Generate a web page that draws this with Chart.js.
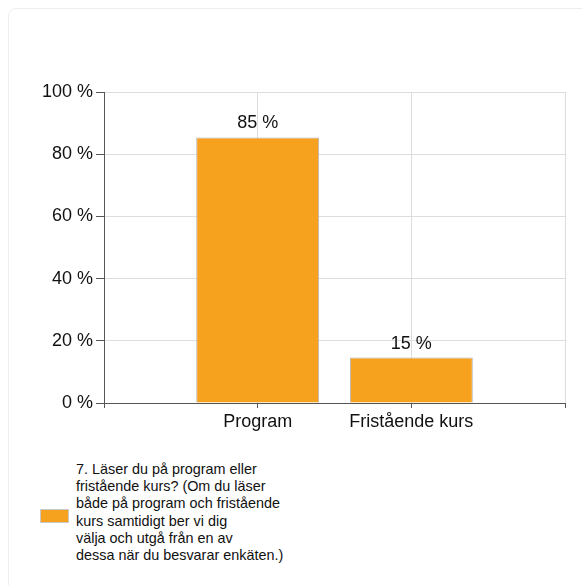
<!DOCTYPE html>
<html>
<head>
<meta charset="utf-8">
<script src="https://cdn.jsdelivr.net/npm/chart.js@4"></script>
<style>
  body { margin: 0; background: #fff; font-family: "Liberation Sans", Arial, sans-serif; }
  .card { position: absolute; left: 8px; top: 8px; width: 620px; height: 620px;
          border: 1px solid #eeeeee; border-radius: 8px; background: #fff; }
  #wrap { position: absolute; left: 0; top: 0; width: 582px; height: 440px; }
  .legend { position: absolute; left: 40px; top: 461px; width: 260px; }
  .legend .box { position: absolute; left: 0; top: 48px; width: 27px; height: 12px;
                 background: #f7a21e; border: 1px solid #c8c8c8; }
  .legend .txt { position: absolute; left: 36px; top: 0; width: 240px;
                 font-size: 14.4px; line-height: 17.2px; color: #111; }
</style>
</head>
<body>
<div class="card"></div>
<div id="wrap"><canvas id="myChart"></canvas></div>
<div class="legend">
  <div class="box"></div>
  <div class="txt">7. Läser du på program eller<br>fristående kurs? (Om du läser<br>både på program och fristående<br>kurs samtidigt ber vi dig<br>välja och utgå från en av<br>dessa när du besvarar enkäten.)</div>
</div>
<script>
var categories = ['', 'Program', 'Fristående kurs', ''];
var values = [null, 85.4, 14.6, null];
var yTicks = [0, 20, 40, 60, 80, 100];
var seriesName = '7. Läser du på program eller fristående kurs?';

var valueLabels = {
  id: 'valueLabels',
  afterDatasetsDraw: function (chart) {
    var ctx = chart.ctx;
    var meta = chart.getDatasetMeta(0);
    ctx.save();
    ctx.font = '18px "Liberation Sans", Arial, sans-serif';
    ctx.fillStyle = '#111';
    ctx.textAlign = 'center';
    ctx.textBaseline = 'alphabetic';
    meta.data.forEach(function (bar, i) {
      if (values[i] == null) return;
      ctx.fillText(Math.round(values[i]) + ' %', bar.x, bar.y - 9);
    });
    ctx.restore();
  }
};

var ctx = document.getElementById('myChart').getContext('2d');
var myChart = new Chart(ctx, {
  type: 'bar',
  data: {
    labels: categories,
    datasets: [{
      label: seriesName,
      data: values,
      backgroundColor: '#f7a21e',
      borderColor: '#b4b4b4',
      borderWidth: 1,
      categoryPercentage: 1,
      barPercentage: 0.8
    }]
  },
  options: {
    responsive: true,
    maintainAspectRatio: false,
    animation: false,
    layout: { padding: { top: 92, right: 17, left: 0, bottom: 0 } },
    plugins: {
      legend: { display: false },
      tooltip: { enabled: false }
    },
    scales: {
      x: {
        offset: false,
        grid: { offset: false, color: '#dddddd', tickColor: '#555', tickLength: 5 },
        border: { color: '#555', width: 1 },
        ticks: {
          color: '#111', padding: 3,
          font: { size: 18, family: '"Liberation Sans", Arial, sans-serif' }
        },
        afterFit: function (s) { s.height = 37; }
      },
      y: {
        min: 0, max: 100,
        afterBuildTicks: function (s) { s.ticks = yTicks.map(function (v) { return { value: v }; }); },
        grid: { color: '#dddddd', tickColor: '#555', tickLength: 8 },
        border: { color: '#555', width: 1 },
        ticks: {
          color: '#111', padding: 3,
          font: { size: 18, family: '"Liberation Sans", Arial, sans-serif' },
          callback: function (v) { return v + ' %'; }
        },
        afterFit: function (s) { s.width = 104; }
      }
    }
  },
  plugins: [valueLabels]
});
</script>
</body>
</html>
